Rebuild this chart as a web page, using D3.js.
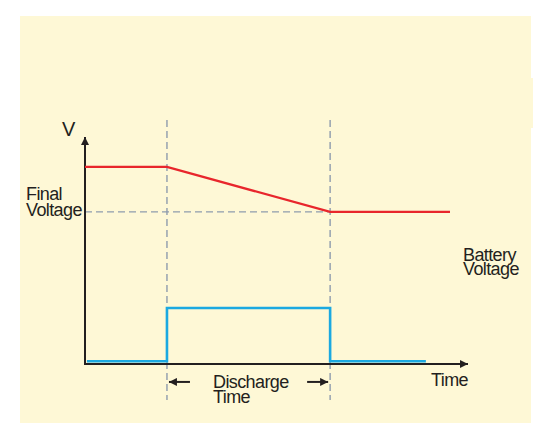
<!DOCTYPE html>
<html>
<head>
<meta charset="utf-8">
<script src="https://cdn.jsdelivr.net/npm/d3@7"></script>
<style>
  body { margin: 0; background: #fff; }
  text { font-family: "Liberation Sans", Arial, sans-serif; fill: #231f20; }
</style>
</head>
<body>
<div id="chart"></div>
<script>
// time positions (arbitrary units, 0..100 along the time axis)
var dischargeStart = 21.4;
var dischargeEnd = 64;
var batteryTime = [0, dischargeStart, dischargeEnd, 95.3];
var batteryVolt = [86.8, 86.8, 67, 67];
var loadTime = [0.5, dischargeStart, dischargeStart, dischargeEnd, dischargeEnd, 89];
var loadLevel = [1.2, 1.2, 24.7, 24.7, 1.2, 1.2];
var finalVoltage = 67;
var labels = {
    y: "V",
    x: "Time",
    finalV: ["Final", "Voltage"],
    battery: ["Battery", "Voltage"],
    discharge: ["Discharge", "Time"]
};

var width = 545;
var height = 435;

var svg = d3.select('#chart')
    .append('svg')
        .attr('width', width)
        .attr('height', height);

// pale yellow panel
svg.append('rect')
    .attr('x', 20).attr('y', 16)
    .attr('width', 511).attr('height', 407)
    .attr('fill', '#fef8d6');
svg.append('rect')
    .attr('x', 525).attr('y', 78)
    .attr('width', 8).attr('height', 50)
    .attr('fill', '#fef8d6');

let xScale = d3.scaleLinear()
    .domain([0, 100])
    .range([85, 468]);

let yScale = d3.scaleLinear()
    .domain([0, 100])
    .range([364, 137]);

let defs = svg.append('defs');
defs.append('marker')
    .attr('id', 'head')
    .attr('viewBox', '0 0 10 10')
    .attr('refX', 10).attr('refY', 5)
    .attr('markerUnits', 'userSpaceOnUse')
    .attr('markerWidth', 9).attr('markerHeight', 8)
    .attr('orient', 'auto')
  .append('path')
    .attr('d', 'M0,0 L10,5 L0,10 Z')
    .attr('fill', '#231f20');

// dashed guide lines
let dash = '7,4';
let guideColor = '#8e9cad';
[dischargeStart, dischargeEnd].forEach(function (t) {
    svg.append('line')
        .attr('x1', xScale(t)).attr('x2', xScale(t))
        .attr('y1', yScale(107.5)).attr('y2', yScale(-15.9))
        .attr('stroke', guideColor)
        .attr('stroke-width', 1.4)
        .attr('stroke-dasharray', dash);
});
svg.append('line')
    .attr('x1', xScale(0)).attr('x2', xScale(dischargeEnd))
    .attr('y1', yScale(finalVoltage)).attr('y2', yScale(finalVoltage))
    .attr('stroke', guideColor)
    .attr('stroke-width', 1.4)
    .attr('stroke-dasharray', dash);

// axes
svg.append('line')
    .attr('x1', xScale(0)).attr('y1', yScale(0))
    .attr('x2', xScale(0)).attr('y2', yScale(100))
    .attr('stroke', '#231f20').attr('stroke-width', 2)
    .attr('marker-end', 'url(#head)');
svg.append('line')
    .attr('x1', xScale(0) - 1).attr('y1', yScale(0))
    .attr('x2', xScale(100)).attr('y2', yScale(0))
    .attr('stroke', '#231f20').attr('stroke-width', 2)
    .attr('marker-end', 'url(#head)');

let line = d3.line()
    .x(d => xScale(d[0]))
    .y(d => yScale(d[1]));

// load current (blue step)
svg.append('path')
    .datum(d3.zip(loadTime, loadLevel))
    .attr('d', line)
    .attr('fill', 'none')
    .attr('stroke', '#1ba9e1')
    .attr('stroke-width', 2.6);

// battery voltage (red)
svg.append('path')
    .datum(d3.zip(batteryTime, batteryVolt))
    .attr('d', line)
    .attr('fill', 'none')
    .attr('stroke', '#e8262c')
    .attr('stroke-width', 2.2);

// discharge time arrows
let arrowY = yScale(-7.9);
svg.append('line')
    .attr('x1', xScale(dischargeStart) + 23).attr('x2', xScale(dischargeStart) + 2)
    .attr('y1', arrowY).attr('y2', arrowY)
    .attr('stroke', '#231f20').attr('stroke-width', 2)
    .attr('marker-end', 'url(#head)');
svg.append('line')
    .attr('x1', xScale(dischargeEnd) - 23).attr('x2', xScale(dischargeEnd) - 2)
    .attr('y1', arrowY).attr('y2', arrowY)
    .attr('stroke', '#231f20').attr('stroke-width', 2)
    .attr('marker-end', 'url(#head)');

// text labels
function multiline(x, y, lines, size, lh) {
    let t = svg.append('text')
        .attr('x', x).attr('y', y)
        .attr('font-size', size + 'px')
        .attr('letter-spacing', '-0.6px');
    lines.forEach(function (s, i) {
        t.append('tspan')
            .attr('x', x)
            .attr('dy', i === 0 ? 0 : lh)
            .text(s);
    });
}

svg.append('text')
    .attr('x', 62).attr('y', 136)
    .attr('font-size', '20px')
    .text(labels.y);

multiline(26, 200, labels.finalV, 18, 16);
multiline(463, 261, labels.battery, 18, 14);
multiline(213, 388, labels.discharge, 18, 14.5);

svg.append('text')
    .attr('x', 431).attr('y', 386)
    .attr('font-size', '18px')
    .attr('letter-spacing', '-0.6px')
    .text(labels.x);
</script>
</body>
</html>
